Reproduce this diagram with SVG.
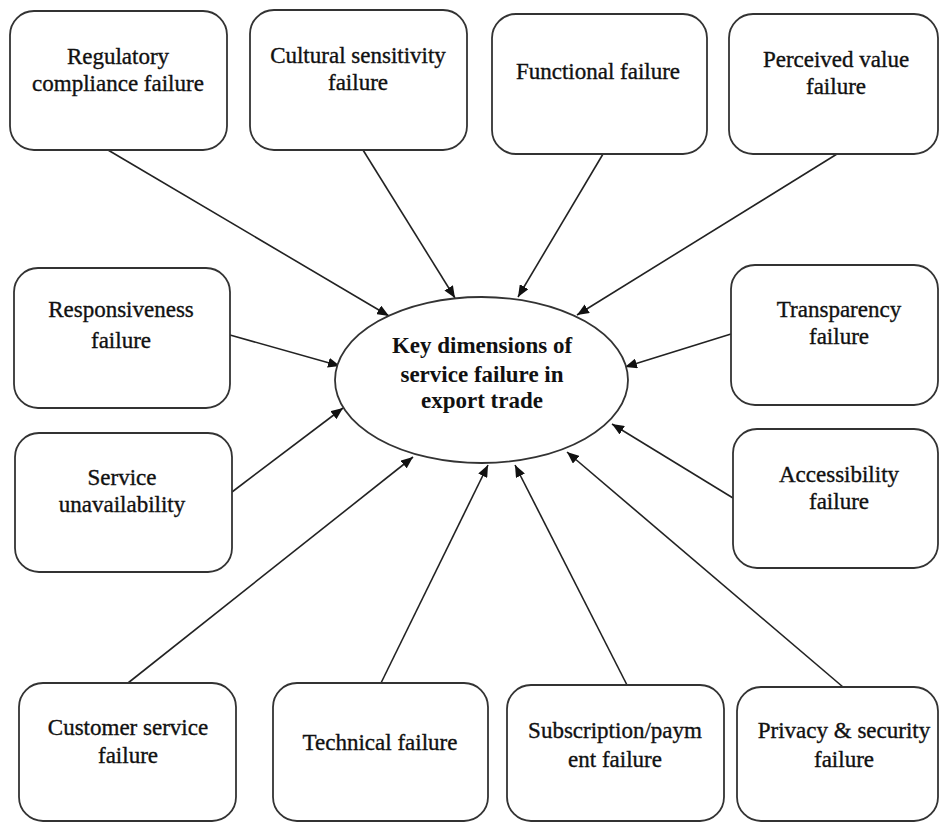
<svg xmlns="http://www.w3.org/2000/svg" width="940" height="823" viewBox="0 0 940 823" font-family="'Liberation Serif', 'Times New Roman', 'DejaVu Serif', serif">
  <defs>
    <marker id="arrow" viewBox="0 0 12 10" refX="12" refY="5" markerWidth="12" markerHeight="10" markerUnits="userSpaceOnUse" orient="auto">
      <path d="M0,0 L12,5 L0,10 Z" fill="#111"/>
    </marker>
    <style>
      .box { fill: #fff; stroke: #333; stroke-width: 1.8; }
      .hub { fill: #fff; stroke: #333; stroke-width: 1.8; }
      text { font-family: 'Liberation Serif', 'Times New Roman', 'DejaVu Serif', serif; }
      .lbl { font-size: 23px; font-weight: normal; fill: #111; stroke: #111; stroke-width: 0.35; text-anchor: middle; }
      .hubtxt { font-size: 23px; font-weight: bold; fill: #111; text-anchor: middle; }
      .link { stroke: #222; stroke-width: 1.6; fill: none; marker-end: url(#arrow); }
    </style>
  </defs>
  <rect width="940" height="823" fill="#fff"/>

  <!-- connectors: each factor points into the central ellipse -->
  <g id="connectors">
    <line class="link" x1="108" y1="150" x2="389" y2="316"/>
    <line class="link" x1="363" y1="150" x2="455" y2="298"/>
    <line class="link" x1="603" y1="154" x2="518" y2="297"/>
    <line class="link" x1="837" y1="154" x2="577" y2="315"/>
    <line class="link" x1="230" y1="335" x2="340" y2="366"/>
    <line class="link" x1="232" y1="492" x2="343" y2="408"/>
    <line class="link" x1="731" y1="334" x2="625" y2="367"/>
    <line class="link" x1="733" y1="498" x2="612" y2="424"/>
    <line class="link" x1="128" y1="683" x2="413" y2="457"/>
    <line class="link" x1="381" y1="683" x2="488" y2="465"/>
    <line class="link" x1="627" y1="685" x2="515" y2="465"/>
    <line class="link" x1="843" y1="687" x2="567" y2="452"/>
  </g>

  <g id="hub">
    <ellipse class="hub" cx="481.5" cy="380" rx="146.5" ry="83"/>
    <text class="hubtxt" x="482" y="353">Key dimensions of</text>
    <text class="hubtxt" x="482" y="382">service failure in</text>
    <text class="hubtxt" x="482" y="408">export trade</text>
  </g>

  <!-- top row -->
  <g id="regulatory">
    <rect class="box" x="10" y="11" width="217" height="139" rx="24"/>
    <text class="lbl" x="118" y="64">Regulatory</text>
    <text class="lbl" x="118" y="91">compliance failure</text>
  </g>
  <g id="cultural">
    <rect class="box" x="250" y="10" width="217" height="140" rx="24"/>
    <text class="lbl" x="358" y="63">Cultural sensitivity</text>
    <text class="lbl" x="358" y="90">failure</text>
  </g>
  <g id="functional">
    <rect class="box" x="492" y="14" width="215" height="140" rx="24"/>
    <text class="lbl" x="598" y="79">Functional failure</text>
  </g>
  <g id="perceived">
    <rect class="box" x="729" y="14" width="209" height="140" rx="24"/>
    <text class="lbl" x="836" y="67">Perceived value</text>
    <text class="lbl" x="836" y="94">failure</text>
  </g>

  <!-- middle rows -->
  <g id="responsiveness">
    <rect class="box" x="14" y="268" width="216" height="140" rx="24"/>
    <text class="lbl" x="121" y="317">Responsiveness</text>
    <text class="lbl" x="121" y="348">failure</text>
  </g>
  <g id="unavailability">
    <rect class="box" x="15" y="433" width="217" height="139" rx="24"/>
    <text class="lbl" x="122" y="485">Service</text>
    <text class="lbl" x="122" y="512">unavailability</text>
  </g>
  <g id="transparency">
    <rect class="box" x="731" y="265" width="207" height="140" rx="24"/>
    <text class="lbl" x="839" y="317">Transparency</text>
    <text class="lbl" x="839" y="344">failure</text>
  </g>
  <g id="accessibility">
    <rect class="box" x="733" y="429" width="205" height="139" rx="24"/>
    <text class="lbl" x="839" y="482">Accessibility</text>
    <text class="lbl" x="839" y="509">failure</text>
  </g>

  <!-- bottom row -->
  <g id="customer">
    <rect class="box" x="19" y="683" width="217" height="138" rx="24"/>
    <text class="lbl" x="128" y="735">Customer service</text>
    <text class="lbl" x="128" y="763">failure</text>
  </g>
  <g id="technical">
    <rect class="box" x="273" y="683" width="215" height="138" rx="24"/>
    <text class="lbl" x="380" y="750">Technical failure</text>
  </g>
  <g id="subscription">
    <rect class="box" x="507" y="685" width="217" height="136" rx="24"/>
    <text class="lbl" x="615" y="738">Subscription/paym</text>
    <text class="lbl" x="615" y="767">ent failure</text>
  </g>
  <g id="privacy">
    <rect class="box" x="737" y="687" width="201" height="134" rx="24"/>
    <text class="lbl" x="844" y="738">Privacy &amp; security</text>
    <text class="lbl" x="844" y="767">failure</text>
  </g>
</svg>
